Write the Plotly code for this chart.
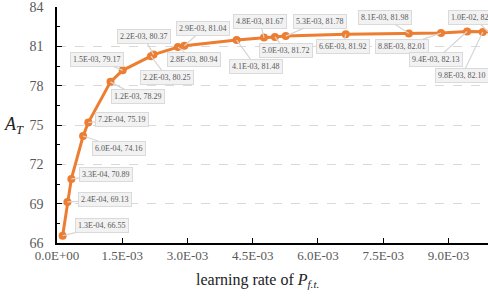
import plotly.graph_objects as go

# ---- data ----
lr = [0.00013, 0.00024, 0.00033, 0.00060, 0.00072, 0.00123, 0.00151, 0.00216, 0.00222,
      0.00278, 0.00293, 0.00413, 0.00476, 0.00501, 0.00526, 0.00664, 0.00809, 0.00883,
      0.00943, 0.00979, 0.01000]
acc = [66.55, 69.13, 70.89, 74.16, 75.19, 78.29, 79.17, 80.25, 80.37,
       80.94, 81.04, 81.48, 81.67, 81.72, 81.78, 81.92, 81.98, 82.01,
       82.13, 82.10, 82.11]
x_tickvals = [0.0, 0.0015, 0.0030, 0.0045, 0.0060, 0.0075, 0.0090]
x_ticktext = ["0.0E+00", "1.5E-03", "3.0E-03", "4.5E-03", "6.0E-03", "7.5E-03", "9.0E-03"]
y_tickvals = [66, 69, 72, 75, 78, 81, 84]

# ---- style ----
ORANGE = "#ED7D31"
GREY_TXT = "#595959"
FONT = "Liberation Serif"
XMAX = 0.00991
# label offsets (pixels) of each callout box relative to its point
offsets = [(39, -10), (38, -2), (35, -4), (36, 12), (34, -3), (28, 15), (-26, -11),
           (16, 21), (-10, -18), (16, 12), (19, -17), (19, 26), (-4, -16), (11, 14),
           (34, -15), (-3, 12), (-24, -16), (-39, 13), (-31, 28), (-21, 44), (-14, -14)]

fig = go.Figure()
fig.add_trace(go.Scatter(
    x=lr, y=acc, mode="lines+markers",
    line=dict(color=ORANGE, width=3),
    marker=dict(color=ORANGE, size=8),
    showlegend=False,
))

for (xv, yv), (dx, dy) in zip(zip(lr, acc), offsets):
    fig.add_annotation(
        x=min(xv, XMAX), y=yv, xref="x", yref="y",
        text=f"{xv:.1E}, {yv:.2f}",
        showarrow=True, arrowhead=0, arrowwidth=1.2, arrowcolor="#d6d6d6",
        ax=dx, ay=dy, standoff=0,
        font=dict(family=FONT, size=8, color=GREY_TXT),
        bgcolor="#f2f2f2", bordercolor="#dadada", borderwidth=1, borderpad=2,
    )

# y-axis title (horizontal)
fig.add_annotation(
    x=0, y=75, xref="paper", yref="y", xanchor="right", yanchor="middle",
    xshift=-31, text="<i>A<sub>T</sub></i>", showarrow=False,
    font=dict(family=FONT, size=18, color="#222222"),
)
# x-axis title
fig.add_annotation(
    x=0.466, y=0, xref="paper", yref="paper", xanchor="center", yanchor="top",
    yshift=-26, text="learning rate of <i>P<sub>f.t.</sub></i>", showarrow=False,
    font=dict(family=FONT, size=16, color="#222222"),
)

fig.update_xaxes(
    range=[0, XMAX], tickvals=x_tickvals, ticktext=x_ticktext, automargin=False,
    ticklabeloverflow="allow",
    showline=True, linecolor="black", linewidth=1.5,
    ticks="inside", ticklen=5, tickcolor="black", tickwidth=1.2,
    showgrid=False, zeroline=False,
    tickfont=dict(family=FONT, size=13, color=GREY_TXT),
)
fig.update_yaxes(
    range=[66, 84], tickvals=y_tickvals, automargin=False,
    ticklabeloverflow="allow", ticklabelstandoff=9,
    showline=True, linecolor="black", linewidth=1.5,
    ticks="inside", ticklen=5, tickcolor="black", tickwidth=1.2,
    showgrid=True, gridcolor="#d9d9d9", griddash="dash", gridwidth=1,
    zeroline=False,
    minor=dict(ticks="inside", ticklen=3, tickcolor="black", dtick=1.5, tick0=66, showgrid=False),
    tickfont=dict(family=FONT, size=14, color=GREY_TXT),
)

fig.update_layout(
    width=488, height=297,
    margin=dict(l=57, r=0, t=7, b=54),
    paper_bgcolor="white", plot_bgcolor="white",
)

fig.write_html("out.html", config={"displayModeBar": False},
               post_script="document.body.style.margin='0';")
